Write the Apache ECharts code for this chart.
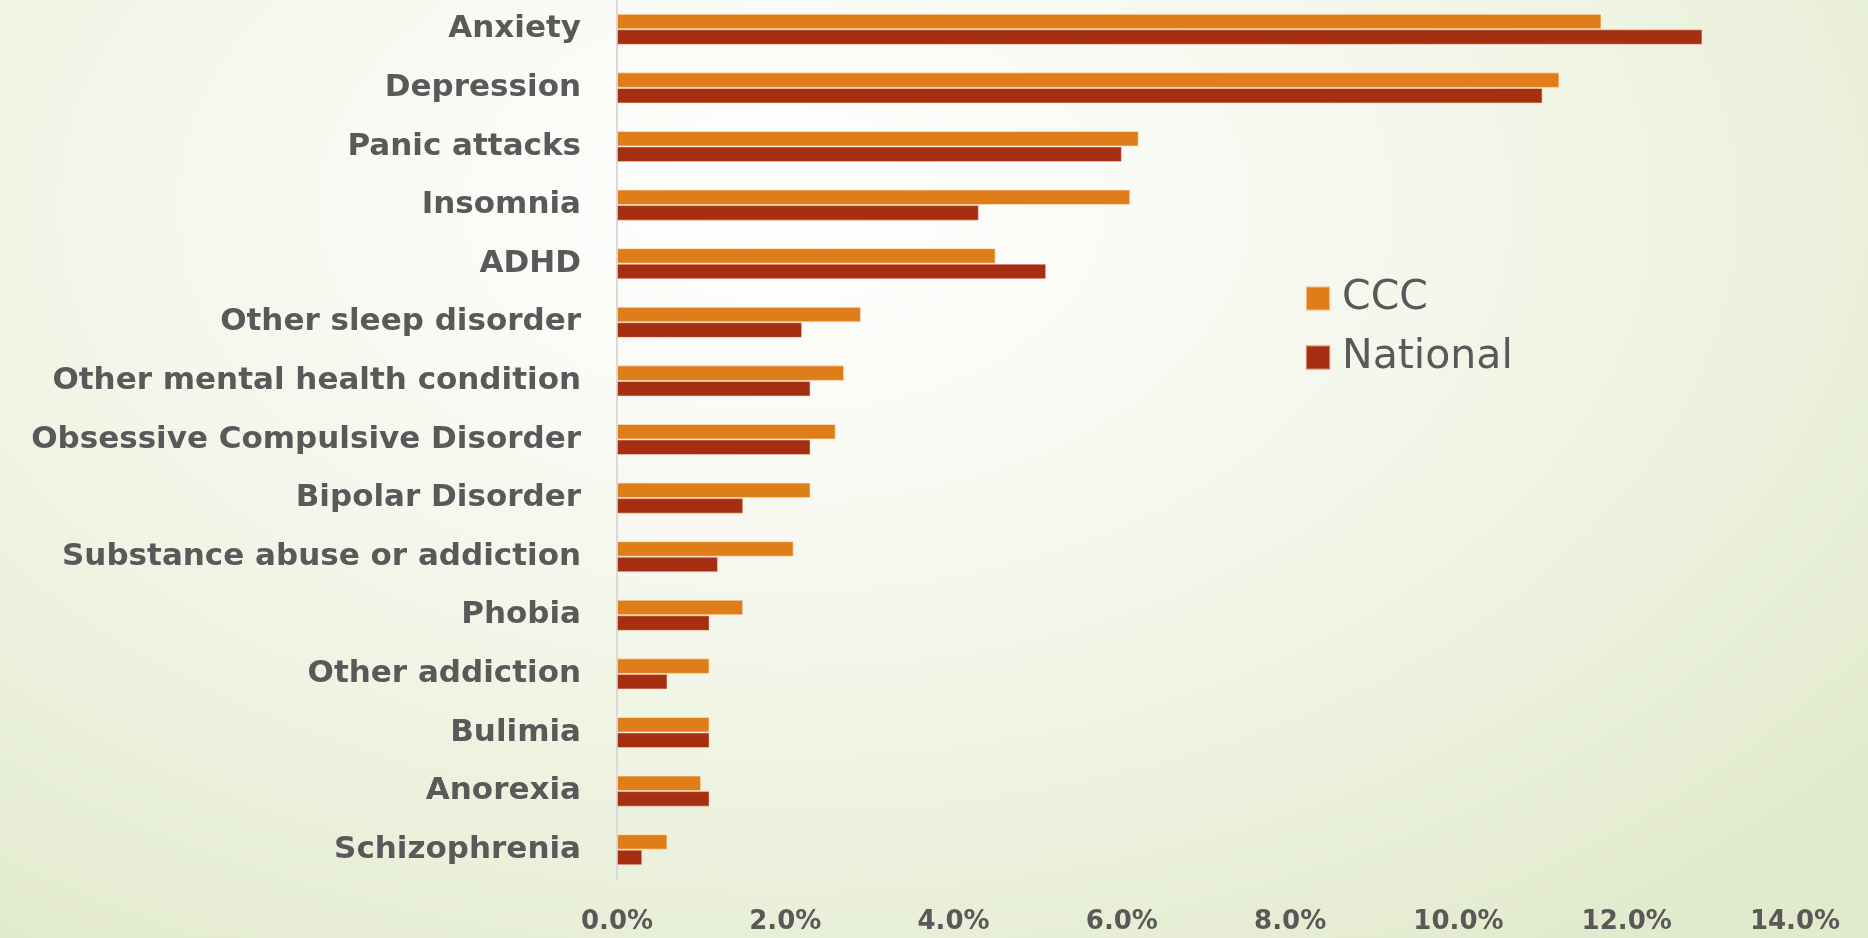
<!DOCTYPE html>
<html>
<head>
<meta charset="utf-8">
<title>Mental health conditions: CCC vs National</title>
<script src="https://cdn.jsdelivr.net/npm/echarts@6/dist/echarts.min.js"></script>
<style>
  html, body { margin: 0; padding: 0; }
  body {
    width: 1868px;
    height: 938px;
    background: radial-gradient(ellipse 75% 95% at 42% 22%, #ffffff 0%, #f7f9f1 35%, #eef3e1 65%, #e2eacd 100%);
  }
  #chart { width: 1868px; height: 938px; }
</style>
</head>
<body>
<div id="chart"></div>
<script>
/* 类别与数值（百分比） */
const categories = [
  "Anxiety",
  "Depression",
  "Panic attacks",
  "Insomnia",
  "ADHD",
  "Other sleep disorder",
  "Other mental health condition",
  "Obsessive Compulsive Disorder",
  "Bipolar Disorder",
  "Substance abuse or addiction",
  "Phobia",
  "Other addiction",
  "Bulimia",
  "Anorexia",
  "Schizophrenia"
];
const cccValues = [11.7, 11.2, 6.2, 6.1, 4.5, 2.9, 2.7, 2.6, 2.3, 2.1, 1.5, 1.1, 1.1, 1.0, 0.6];
const nationalValues = [12.9, 11.0, 6.0, 4.3, 5.1, 2.2, 2.3, 2.3, 1.5, 1.2, 1.1, 0.6, 1.1, 1.1, 0.3];
const seriesNames = ["CCC", "National"];

const textColor = "#595959";
const fontFamily = "'DejaVu Sans', Verdana, sans-serif";

const chart = echarts.init(document.getElementById("chart"));

chart.setOption({
  animation: false,
  textStyle: { fontFamily: fontFamily },
  grid: { left: 617, right: 73, top: -3, height: 882 },
  legend: {
    data: seriesNames,
    orient: "vertical",
    left: 1305,
    top: 278,
    padding: 0,
    icon: "rect",
    itemWidth: 24,
    itemHeight: 24,
    itemGap: 18,
    textStyle: {
      color: textColor,
      fontSize: 41,
      lineHeight: 41,
      fontFamily: fontFamily,
      padding: [0, 0, 0, 7]
    }
  },
  xAxis: {
    type: "value",
    min: 0,
    max: 14,
    interval: 2,
    axisLine: { show: false },
    axisTick: { show: false },
    splitLine: { show: false },
    axisLabel: {
      color: textColor,
      fontSize: 26,
      fontWeight: "bold",
      margin: 30,
      fontFamily: fontFamily,
      formatter: (v) => v.toFixed(1) + "%"
    }
  },
  yAxis: {
    type: "category",
    inverse: true,
    data: categories,
    axisLine: { show: true, lineStyle: { color: "#d9d9d9", width: 2 } },
    axisTick: { show: false },
    axisLabel: {
      color: textColor,
      fontSize: 31,
      fontWeight: "bold",
      margin: 36,
      fontFamily: fontFamily
    }
  },
  series: [
    {
      name: seriesNames[0],
      type: "bar",
      data: cccValues,
      barGap: "0%",
      barCategoryGap: "47%",
      itemStyle: { color: "#df7e19", borderColor: "rgba(255,235,210,0.6)", borderWidth: 1 }
    },
    {
      name: seriesNames[1],
      type: "bar",
      data: nationalValues,
      barGap: "0%",
      barCategoryGap: "47%",
      itemStyle: { color: "#a52f10", borderColor: "rgba(255,220,200,0.5)", borderWidth: 1 }
    }
  ]
});

window.addEventListener("resize", () => chart.resize());
</script>
</body>
</html>
